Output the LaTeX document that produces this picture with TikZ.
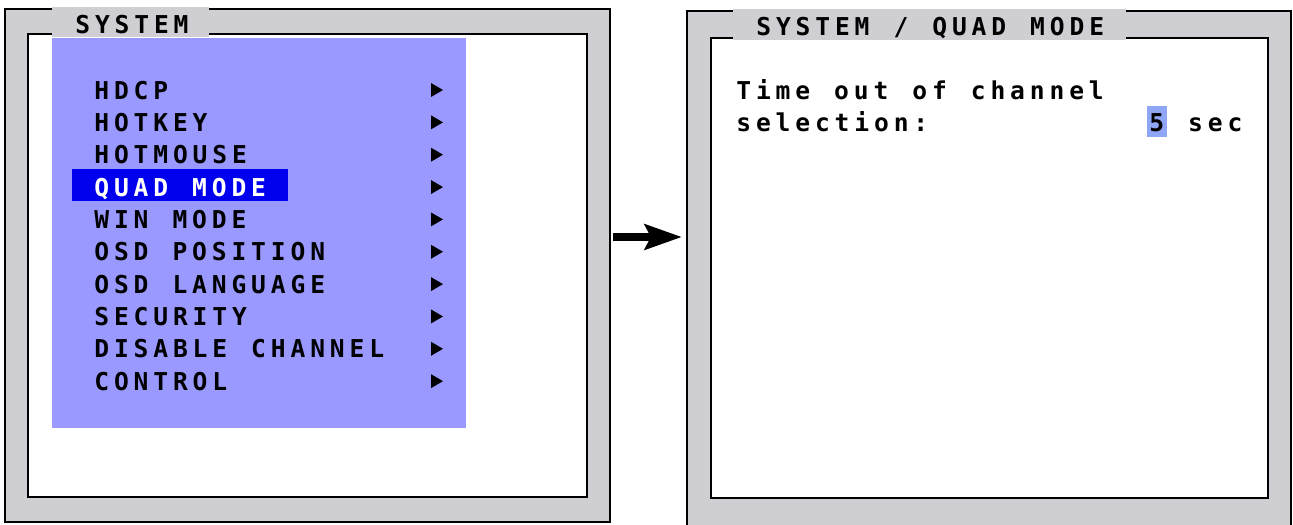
\documentclass[tikz,border=0pt]{standalone}
\usepackage{fontspec}
\newfontfamily\osdfont{DejaVu Sans Mono}[LetterSpace=19.8, WordSpace=1.22]
\usetikzlibrary{fit,arrows.meta}
\definecolor{osdgray}{RGB}{207,207,211}
\definecolor{menublue}{RGB}{153,153,255}
\definecolor{selblue}{RGB}{0,0,238}
\definecolor{valblue}{RGB}{143,165,245}

\begin{document}
\begin{tikzpicture}[x=0.02cm, y=-0.02cm,
  frame/.style={draw, line width=1.2pt, fill=osdgray, inner sep=0pt},
  screen/.style={draw, line width=1.4pt, fill=white, inner sep=0pt},
  titlebar/.style={fill=osdgray, inner sep=0pt},
  menu/.style={fill=menublue, inner sep=0pt},
  item/.style={anchor=base west, inner sep=0pt, font=\fontsize{14}{16}\osdfont\bfseries},
  selected/.style={item, text=white},
  highlight/.style={fill=selblue, inner sep=0pt},
  value/.style={fill=valblue, inner sep=0pt},
  pointer/.style={fill=black},
  arrow/.style={-{Stealth[length=0.74cm, width=0.5cm, inset=0.12cm]}, line width=4.5pt}
]
\useasboundingbox (0,0) rectangle (1293,524);

% Left screen: SYSTEM menu
\node[frame, fit={(5,9) (610,522)}] (sys) {};
\node[screen, fit={(28,34) (587,497)}] (sysscreen) {};
\node[titlebar, fit={(52,7) (209,37)}] (systitlebar) {};
\node[item] (systitle) at (75,33) {SYSTEM};
\node[menu, fit={(52,38) (466,428)}] (sysmenu) {};
\node[highlight, fit={(72,169) (288,201)}] (sel) {};

% Menu entries
\node[item] (hdcp) at (94,99) {HDCP};
\node[item] (hotkey) at (94,131.35) {HOTKEY};
\node[item] (hotmouse) at (94,163.7) {HOTMOUSE};
\node[selected] (quadmode) at (94,196.05) {QUAD MODE};
\node[item] (winmode) at (94,228.4) {WIN MODE};
\node[item] (osdpos) at (94,260.75) {OSD POSITION};
\node[item] (osdlang) at (94,293.1) {OSD LANGUAGE};
\node[item] (security) at (94,325.45) {SECURITY};
\node[item] (disable) at (94,357.8) {DISABLE CHANNEL};
\node[item] (control) at (94,390.15) {CONTROL};

% Submenu pointers
\fill[pointer] (431,83) -- (443,90) -- (431,97) -- cycle;
\fill[pointer] (431,115.35) -- (443,122.35) -- (431,129.35) -- cycle;
\fill[pointer] (431,147.7) -- (443,154.7) -- (431,161.7) -- cycle;
\fill[pointer] (431,180.05) -- (443,187.05) -- (431,194.05) -- cycle;
\fill[pointer] (431,212.4) -- (443,219.4) -- (431,226.4) -- cycle;
\fill[pointer] (431,244.75) -- (443,251.75) -- (431,258.75) -- cycle;
\fill[pointer] (431,277.1) -- (443,284.1) -- (431,291.1) -- cycle;
\fill[pointer] (431,309.45) -- (443,316.45) -- (431,323.45) -- cycle;
\fill[pointer] (431,341.8) -- (443,348.8) -- (431,355.8) -- cycle;
\fill[pointer] (431,374.15) -- (443,381.15) -- (431,388.15) -- cycle;

% Right screen: SYSTEM / QUAD MODE
\node[frame, fit={(687,11) (1291,530)}] (quad) {};
\node[screen, fit={(711,38) (1268,498)}] (quadscreen) {};
\node[titlebar, fit={(733,9) (1126,39.5)}] (quadtitlebar) {};
\node[item] (quadtitle) at (756,35) {SYSTEM / QUAD MODE};
\node[value, fit={(1147,106) (1167,137)}] (val) {};
\node[item] (timeout) at (736,99) {Time out of channel};
\node[item] (selection) at (736,131.5) {selection:};
\node[item] (secs) at (1149,131.5) {5 sec};

% Step arrow
\coordinate (mid) at (650,237);
\draw[arrow, shorten <=0.04cm, shorten >=0.08cm] (sys.east |- mid) -- (quad.west |- mid);

\end{tikzpicture}
\end{document}
